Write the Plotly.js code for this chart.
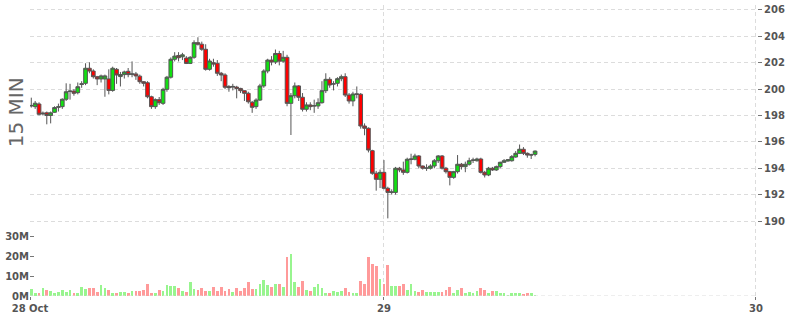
<!DOCTYPE html>
<html>
<head>
<meta charset="utf-8">
<script src="https://cdn.plot.ly/plotly-3.0.1.min.js"></script>
<style>html,body{margin:0;padding:0;background:#fff;}#chart{width:800px;height:315px;}</style>
</head>
<body>
<div id="chart"></div>
<script>
// 15-minute bars, first bar 28 Oct 01:15
const startTime = '2024-10-28T01:15:00';
const opens = [198.72,198.67,198.87,198.12,198.20,198.00,198.24,198.62,198.67,199.23,
199.82,199.85,199.73,200.35,200.44,201.58,201.37,200.94,200.77,200.77,
200.77,199.90,201.50,200.95,201.10,201.35,201.12,201.15,200.98,200.56,
200.48,199.42,198.67,199.20,198.92,199.98,200.90,202.26,202.55,202.45,
202.35,201.95,202.41,203.52,203.40,203.02,201.50,202.00,201.96,201.20,
201.07,200.20,200.15,200.15,200.05,199.88,199.68,199.00,198.67,199.17,
200.24,201.37,202.20,202.05,202.70,202.12,202.41,198.92,199.50,200.24,
199.38,198.47,198.80,198.72,198.72,198.97,199.88,200.74,200.38,200.44,
200.79,200.94,199.55,199.10,199.60,199.61,197.20,197.03,195.33,193.62,
193.16,193.69,192.48,192.17,192.17,194.00,193.87,193.69,194.66,194.68,
194.93,194.17,194.00,194.00,194.17,194.57,194.93,194.00,193.74,193.31,
193.74,194.30,194.12,194.30,194.60,194.57,194.70,193.69,193.49,194.00,
193.87,194.12,194.45,194.55,194.57,194.85,195.13,195.44,195.13,195.00,195.05];
const highs = [199.35,199.10,199.00,198.30,198.30,198.30,198.70,198.90,199.30,200.44,
200.40,200.00,200.50,200.60,201.96,202.03,201.50,201.00,201.10,201.10,
201.50,201.70,201.60,201.30,201.40,201.60,202.10,201.30,201.10,200.60,
200.60,199.50,199.30,199.40,200.10,201.00,202.40,202.80,202.80,202.75,
202.50,202.50,203.70,203.93,203.60,203.40,202.30,202.30,202.20,201.30,
201.20,200.30,200.40,200.25,200.10,199.90,199.80,199.10,199.30,200.40,
201.50,202.30,202.50,203.00,202.90,202.90,202.60,199.70,200.50,200.30,
199.70,199.00,199.00,199.20,199.30,200.60,201.20,200.90,200.60,200.90,
201.10,201.20,199.70,199.80,200.20,199.70,197.40,197.10,195.40,193.80,
193.90,194.62,192.60,192.40,194.10,194.10,194.50,194.80,195.10,195.10,
195.00,194.20,194.30,194.30,194.70,195.00,195.00,194.10,193.80,193.80,
195.00,194.40,194.50,194.80,194.80,194.80,194.80,193.80,194.10,194.10,
194.20,194.50,194.70,194.70,195.00,195.30,195.80,195.60,195.20,195.10,195.35];
const lows = [198.60,198.50,198.00,198.00,197.33,197.40,198.20,198.30,198.50,199.10,
199.20,199.50,199.60,200.10,200.30,201.20,200.80,200.30,200.50,199.42,
199.60,199.80,200.40,200.20,200.80,200.90,200.90,200.70,200.40,200.20,
199.30,198.50,198.50,198.80,198.80,199.80,200.80,202.10,202.10,202.20,
201.90,201.90,202.30,203.30,202.90,201.40,201.40,201.70,201.00,200.60,
200.00,199.80,199.90,199.30,199.70,199.10,198.90,198.20,198.50,199.10,
200.10,201.20,201.80,201.90,201.80,202.00,198.70,196.52,199.30,199.10,
198.30,198.30,198.40,198.20,198.50,198.90,199.70,200.10,199.90,200.20,
200.60,199.40,198.90,198.70,199.30,197.00,196.50,195.20,193.50,192.30,
192.50,192.40,190.20,192.00,192.00,193.70,193.50,193.60,194.30,194.60,
194.00,193.90,193.80,193.90,194.00,194.40,193.90,193.60,192.70,193.20,
193.60,193.90,193.70,194.20,194.40,194.50,193.60,193.30,193.40,193.80,
193.80,194.00,194.40,194.50,194.50,194.80,195.10,195.00,194.80,194.70,194.90];
const closes = [198.76,198.93,198.09,198.17,198.00,198.20,198.60,198.66,199.23,199.80,
199.85,199.68,200.18,200.40,201.58,201.37,200.94,200.77,201.00,201.00,
199.90,201.58,201.07,201.10,201.30,201.10,201.15,201.00,200.56,200.44,
199.42,198.67,199.20,198.97,199.98,200.90,202.26,202.50,202.38,202.60,
201.95,202.41,203.52,203.40,203.02,201.50,202.13,201.90,201.20,201.07,
200.14,200.10,200.20,200.05,199.88,199.68,199.04,198.62,199.17,200.24,
201.37,202.20,202.05,202.70,202.12,202.41,198.92,199.50,200.24,199.38,
198.47,198.80,198.67,198.74,198.97,199.88,200.74,200.31,200.40,200.79,
200.94,199.55,199.10,199.63,199.63,197.20,197.03,195.38,193.62,193.16,
193.69,192.48,192.17,192.20,194.00,193.87,193.69,194.68,194.70,194.93,
194.17,194.00,194.02,194.17,194.57,194.93,194.00,193.74,193.31,193.74,
194.30,194.12,194.30,194.57,194.62,194.70,193.69,193.49,194.00,193.87,
194.12,194.45,194.57,194.65,194.88,195.13,195.44,195.13,195.00,195.02,195.30];
// volume in millions
const volumesM = [3.5,1.7,1.7,4,3,2.7,1.7,2.2,3,2.2,
3,1.7,1.7,4.7,3.7,4.2,4.2,2,5.5,4.2,
3,1.7,1.7,2.2,2.2,1.7,2.7,2.7,2.7,3.2,
6,1.7,1.7,3,2.7,5.5,5.2,5.2,4.2,2.7,
2.2,7,3.5,3,4,2.7,2.7,4.7,2.7,4.7,
2.7,3.5,2.2,4,2.7,4,7,3.5,3.5,
6,8,5.5,4.7,6,6,4.7,19.7,21,7,
4.7,7.5,3,2.7,4.7,6,4,1.7,1.7,2.7,
2.2,2.7,4,2.2,1.7,1.7,7.5,6,19.7,16,
15,8.7,6,15.5,5,5,5,6,3,6,
2.5,2,3,2.2,2.2,2.2,2.2,2.2,3,4.5,
1.7,3,4,1.7,2,1.7,2.7,4,3,1.3,
2.7,2.7,1.3,1.3,0.7,1.3,1.3,1.3,1,1.3,
1.3,0.7];
const priceTicks = [190,192,194,196,198,200,202,204,206];
const volTicks = [0,10,20,30];
const xTickVals = ['2024-10-28 01:10','2024-10-29 00:00','2024-10-30 00:00'];
const xTickText = ['28 Oct','29','30'];

const BAR_MS = 15*60*1000;
const t0 = new Date(startTime + 'Z').getTime();
function fmt(ms){ return new Date(ms).toISOString().replace('T',' ').slice(0,19); }
const times = opens.map((_, i) => fmt(t0 + i*BAR_MS));
const volColors = opens.map((o, i) => closes[i] >= o ? '#98f58f' : '#ff9a9a');

const tickFont = {family:'DejaVu Sans', size:10, color:'#555', weight:'bold'};

const volTrace = {
  type:'bar', x: times, y: volumesM.map(v => v*1e6), yaxis:'y2',
  marker:{color: volColors, line:{width:0}}, width: BAR_MS*0.7,
  hoverinfo:'skip', showlegend:false
};
const candle = {
  type:'candlestick', x: times, open: opens, high: highs, low: lows, close: closes,
  yaxis:'y',
  increasing:{line:{color:'#555', width:1}, fillcolor:'#11e011'},
  decreasing:{line:{color:'#555', width:1}, fillcolor:'#ff0000'},
  whiskerwidth:0, hoverinfo:'skip', showlegend:false
};

const layout = {
  width:800, height:315,
  margin:{l:30, r:43, t:5, b:19, pad:0},
  paper_bgcolor:'#fff', plot_bgcolor:'#fff',
  showlegend:false, bargap:0, boxgap:0.05, boxgroupgap:0,
  xaxis:{
    type:'date', range:['2024-10-28 01:10','2024-10-30 00:04'],
    tickmode:'array', tickvals: xTickVals, ticktext: xTickText,
    showgrid:true, gridcolor:'#dcdcdc', griddash:'4px,3px', gridwidth:1,
    ticks:'outside', ticklen:3, tickcolor:'#777', tickfont: tickFont,
    zeroline:false, showline:false, rangeslider:{visible:false}, fixedrange:true
  },
  yaxis:{
    side:'right', range:[184.314, 206.376],
    tickmode:'array', tickvals: priceTicks, ticktext: priceTicks.map(String),
    showgrid:true, gridcolor:'#dcdcdc', griddash:'4px,3px', gridwidth:1,
    ticks:'outside', ticklen:4, tickcolor:'#777', tickfont: tickFont,
    zeroline:false, showline:false, fixedrange:true
  },
  yaxis2:{
    overlaying:'y', side:'left', range:[0, 145.5e6],
    tickmode:'array', tickvals: volTicks.map(v => v*1e6), ticktext: volTicks.map(v => v + 'M'),
    showgrid:false, ticks:'inside', ticklen:4, tickcolor:'#777', tickfont: tickFont,
    zeroline:false, showline:false, fixedrange:true
  },
  shapes:[{type:'line', xref:'paper', x0:0, x1:1, yref:'y2', y0:0, y1:0,
           line:{color:'#dcdcdc', width:1, dash:'4px,3px'}}],
  annotations:[{text:'15 MIN', xref:'paper', yref:'paper', x:-0.02, y:0.633,
    xanchor:'center', yanchor:'middle', textangle:-90, showarrow:false,
    font:{family:'DejaVu Sans', size:20, color:'#666'}}]
};

Plotly.newPlot('chart', [volTrace, candle], layout, {staticPlot:true, displayModeBar:false});
</script>
</body>
</html>
